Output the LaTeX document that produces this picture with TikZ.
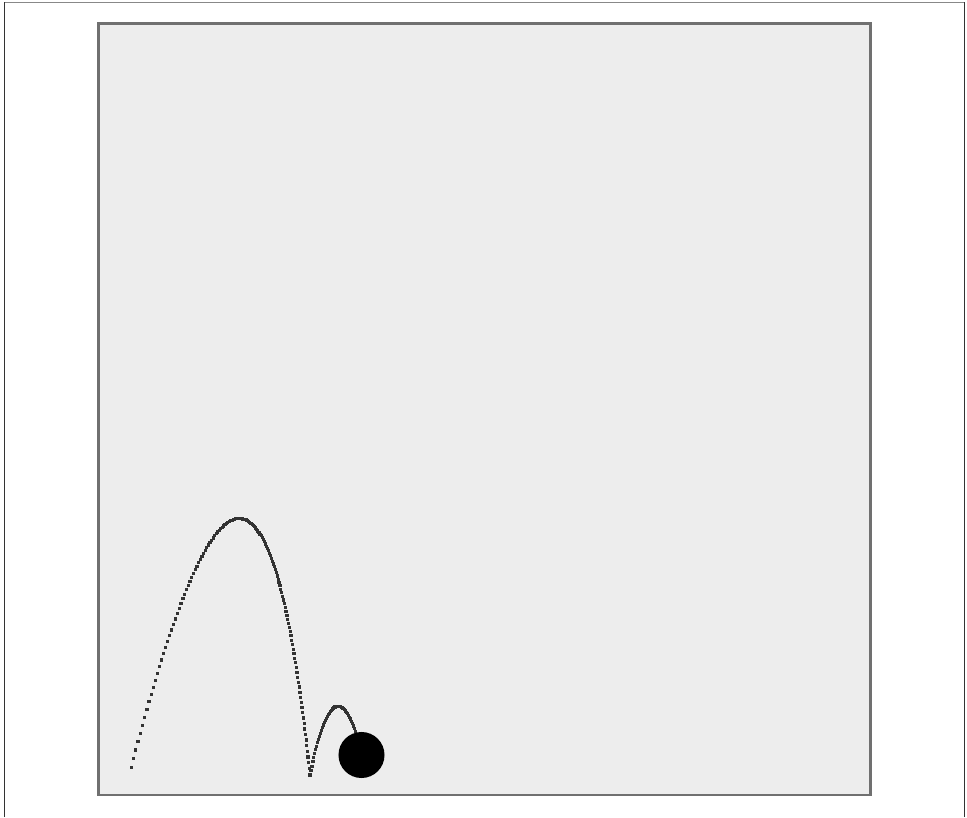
\documentclass[tikz,border=0pt]{standalone}
\usetikzlibrary{plotmarks}
\definecolor{bggray}{HTML}{EDEDED}
\definecolor{boxgray}{HTML}{707070}
\definecolor{dotgray}{HTML}{333333}
\definecolor{framegray}{HTML}{888888}
\begin{document}
\begin{tikzpicture}[x=0.025cm, y=0.025cm,
        box/.style={draw=boxgray, fill=bggray, line width=2pt},
        trail/.style={dotgray, only marks, mark=square*, mark size=0.8pt},
        ball/.style={circle, fill=black, minimum size=1.15cm, inner sep=0pt}]
        \useasboundingbox (0,0) rectangle (967,817);

        % outer frame
        \draw[framegray, line width=1.1pt] (4,814.5) -- (964.5,814.5);
        \draw[black!80, line width=0.7pt] (4,814.5) -- (4,0);
        \draw[black!80, line width=0.7pt] (964.5,814.5) -- (964.5,0);

        % court
        \draw[box] (98.5,793.5) rectangle (870.5,22);

        % first hop, with drag
        \draw[trail] plot[domain=0:1.331, samples=140, variable=\u]
            ({131 + 243*(1-exp(-\u))}, {50 + 1173*(1.8*(1-exp(-\u)) - \u)});

        % second hop
        \draw[trail] plot[domain=0:1, samples=55, variable=\v]
            ({309.8 + 52*\v}, {42 + 254.3*\v - 234.3*\v*\v});

        \node[ball] (ball) at (361.5,62) {};
\end{tikzpicture}
\end{document}
